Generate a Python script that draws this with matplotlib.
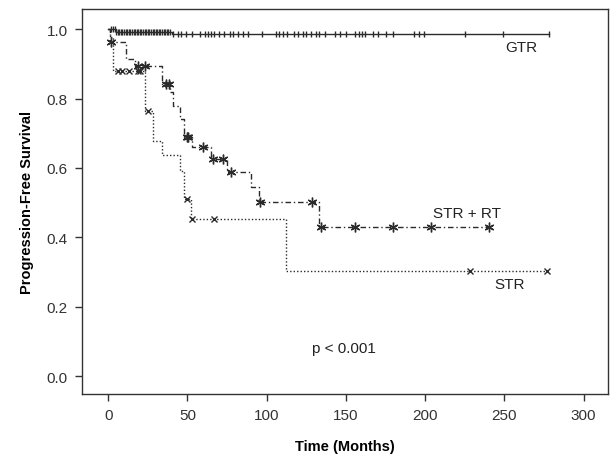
import matplotlib.pyplot as plt
import numpy as np

plt.rcParams['font.family'] = ['Liberation Sans', 'DejaVu Sans']

# Kaplan-Meier steps (time in months, survival after the step)
gtr_times = [0, 5, 40, 278]
gtr_surv = [1.0, 0.993, 0.986, 0.986]
gtr_censor = [2, 3, 4, 5, 6, 7, 8, 9, 10, 11, 12, 13, 14, 15, 16, 17, 18, 19, 20,
              21, 22, 23, 24, 25, 26, 27, 28, 29, 30, 31, 32, 33, 34, 35, 36, 37,
              38, 39, 41, 44, 46, 49, 53, 58, 61, 63, 65, 67, 70, 73, 77, 79, 82,
              85, 88, 97, 106, 108, 110, 113, 117, 120, 123, 125, 128, 131, 133,
              137, 143, 146, 150, 156, 158, 160, 162, 167, 170, 175, 180, 193,
              196, 199, 225, 249, 278]

str_times = [0, 1, 3, 23, 28, 34, 45, 48, 52, 112, 277]
str_surv = [1.0, 0.977, 0.879, 0.764, 0.677, 0.637, 0.591, 0.51, 0.452, 0.303, 0.303]
str_censor = [6, 9, 13, 19, 20, 25, 50, 53, 67, 228, 277]

strrt_times = [0, 1, 11, 17, 34, 39, 41, 45, 48, 53, 65, 75, 90, 95, 133, 240]
strrt_surv = [1.0, 0.963, 0.914, 0.893, 0.841, 0.818, 0.778, 0.741, 0.689, 0.66,
              0.625, 0.588, 0.545, 0.501, 0.429, 0.429]
strrt_censor = [1.5, 19, 23.4, 36.4, 38.6, 49.5, 50.5, 60, 66, 72.7, 77.6, 96,
                128.6, 134, 156, 180, 204, 240]

col = '#2b2b2b'


def level(times, surv, t):
    i = np.searchsorted(times, t, side='right') - 1
    return np.array(surv)[i]


fig = plt.figure(figsize=(6.1, 4.6), dpi=100)
ax = fig.add_axes([0.134, 0.141, 0.863, 0.837])

ax.step(gtr_times, gtr_surv, where='post', color=col, lw=1.0)
ax.plot(gtr_censor, level(gtr_times, gtr_surv, gtr_censor), ls='none',
        marker='|', ms=5, mew=1.0, color=col)

ax.step(str_times, str_surv, where='post', color=col, lw=1.0, ls=(0, (1, 1.5)))
ax.plot(str_censor, level(str_times, str_surv, str_censor), ls='none',
        marker='x', ms=5, mew=1.0, color=col)

ax.step(strrt_times, strrt_surv, where='post', color=col, lw=1.0, ls=(0, (4, 2, 1, 2)))
ax.plot(strrt_censor, level(strrt_times, strrt_surv, strrt_censor), ls='none',
        marker=(6, 2, 0), ms=7, mew=1.0, color=col)

ax.text(261, 0.948, 'GTR', ha='center', va='center', fontsize=11, color='#222222')
ax.text(226.6, 0.47, 'STR + RT', ha='center', va='center', fontsize=11, color='#222222')
ax.text(253, 0.265, 'STR', ha='center', va='center', fontsize=11, color='#222222')
ax.text(149, 0.08, 'p < 0.001', ha='center', va='center', fontsize=11, color='#222222')

ax.set_xlim(-16.7, 315.5)
ax.set_ylim(-0.052, 1.058)
ax.set_xticks([0, 50, 100, 150, 200, 250, 300])
ax.set_yticks([0.0, 0.2, 0.4, 0.6, 0.8, 1.0])
ax.set_yticklabels(['0.0', '0.2', '0.4', '0.6', '0.8', '1.0'])
ax.tick_params(direction='out', length=5, width=1, color='#333333',
               labelsize=11, labelcolor='#333333', pad=5)
for s in ax.spines.values():
    s.set_color('#333333')
    s.set_linewidth(1.0)

ax.set_xlabel('Time (Months)', fontsize=10.5, fontweight='bold', labelpad=12)
ax.set_ylabel('Progression-Free Survival', fontsize=10.5, fontweight='bold', labelpad=9)

fig.savefig('out.png', dpi=100)
